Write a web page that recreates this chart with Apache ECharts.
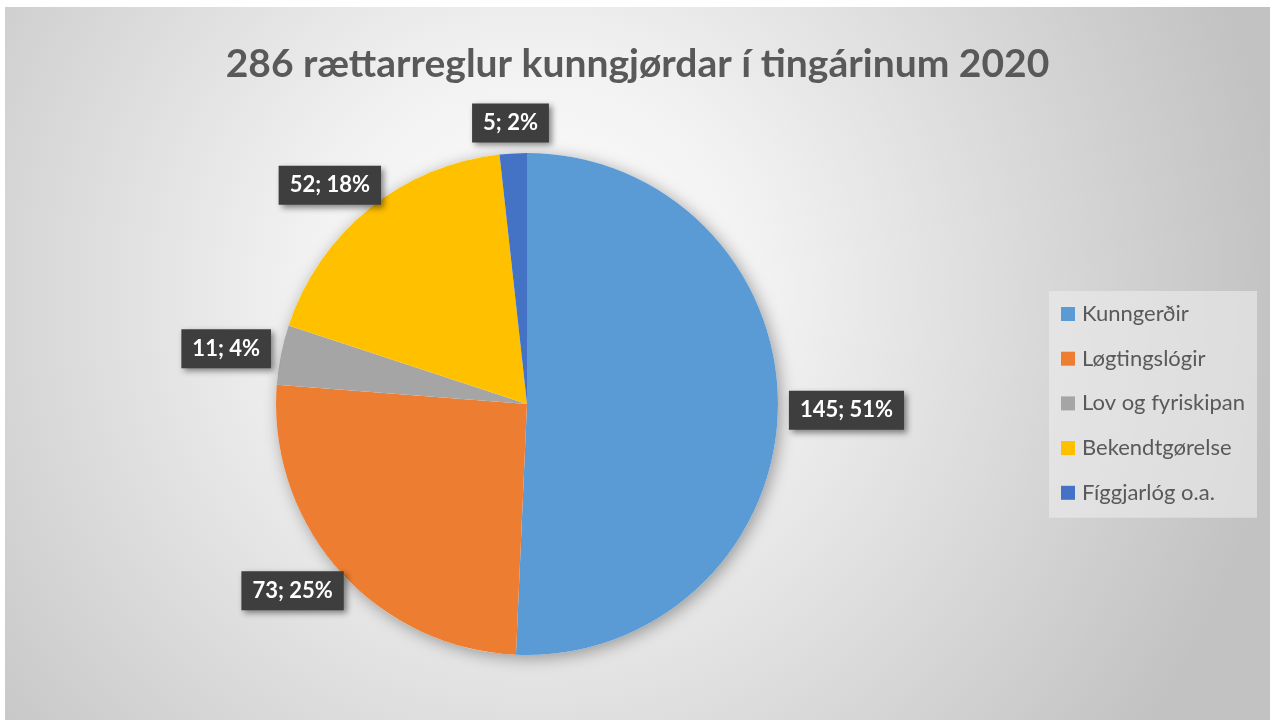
<!DOCTYPE html>
<html>
<head>
<meta charset="utf-8">
<script src="https://cdn.jsdelivr.net/npm/echarts@6/dist/echarts.min.js"></script>
<style>
  html, body { margin: 0; padding: 0; background: #ffffff; }
  #chart {
    position: absolute;
    left: 5px;
    top: 7px;
    width: 1265px;
    height: 713px;
    box-shadow: inset 1px 1px 0 #bdbdbd;
  }
</style>
</head>
<body>
<div id="chart"></div>
<script>
// Pie of published regulations by type, 2020
const titleText = "286 rættarreglur kunngjørdar í tingárinum 2020";
const categories = ["Kunngerðir", "Løgtingslógir", "Lov og fyriskipan", "Bekendtgørelse", "Fíggjarlóg o.a."];
const counts = [145, 73, 11, 52, 5];
const shares = [51, 25, 4, 18, 2];
const colors = ["#5b9bd5", "#ed7d31", "#a5a5a5", "#ffc000", "#4472c4"];

const total = counts.reduce((a, b) => a + b, 0);
const labelGap = 11;

const chart = echarts.init(document.getElementById("chart"), null, { renderer: "canvas" });

chart.setOption({
  animation: false,
  backgroundColor: {
    type: "radial",
    x: 0.42,
    y: 0.4,
    r: 1.05,
    colorStops: [
      { offset: 0, color: "#ffffff" },
      { offset: 0.3, color: "#f2f2f2" },
      { offset: 1, color: "#c2c2c2" }
    ]
  },
  color: colors,
  title: {
    text: titleText,
    left: "center",
    top: 33,
    textStyle: {
      color: "#595959",
      fontFamily: "Lato",
      fontSize: 39,
      fontWeight: "bold"
    }
  },
  legend: {
    orient: "vertical",
    left: 1044,
    top: 284,
    padding: [12, 12, 14, 12],
    backgroundColor: "rgba(236,236,236,0.6)",
    itemWidth: 14,
    itemHeight: 14,
    itemGap: 22.7,
    icon: "rect",
    data: categories,
    textStyle: {
      color: "#595959",
      fontFamily: "Lato",
      fontSize: 22,
      lineHeight: 20,
      padding: [0, 0, 0, 2]
    }
  },
  series: [
    {
      // backdrop disc that carries the pie's drop shadow
      type: "pie",
      silent: true,
      center: [522, 397],
      radius: 251,
      z: 1,
      label: { show: false },
      labelLine: { show: false },
      itemStyle: {
        color: "#ffffff",
        shadowBlur: 16,
        shadowOffsetX: 3,
        shadowOffsetY: 3,
        shadowColor: "rgba(0,0,0,0.35)"
      },
      data: [{ value: total, name: "" }]
    },
    {
      type: "pie",
      center: [522, 397],
      radius: 251,
      startAngle: 90,
      clockwise: true,
      z: 2,
      avoidLabelOverlap: false,
      itemStyle: { borderWidth: 0 },
      label: {
        show: true,
        position: "outside",
        formatter: (p) => counts[p.dataIndex] + "; " + shares[p.dataIndex] + "%",
        color: "#ffffff",
        fontFamily: "Lato",
        fontWeight: "bold",
        fontSize: 22,
        backgroundColor: "#3e3e3e",
        padding: [9, 11, 8, 11],
        shadowBlur: 6,
        shadowOffsetX: 3,
        shadowOffsetY: 3,
        shadowColor: "rgba(0,0,0,0.45)"
      },
      labelLine: {
        show: true,
        length: 10,
        length2: 0,
        lineStyle: { width: 0, opacity: 0 }
      },
      labelLayout: (params) => {
        const pts = params.labelLinePoints;
        if (!pts) return {};
        const dx0 = pts[1][0] - pts[0][0];
        const dy0 = pts[1][1] - pts[0][1];
        const len = Math.sqrt(dx0 * dx0 + dy0 * dy0) || 1;
        const dx = dx0 / len;
        const dy = dy0 / len;
        const w = params.labelRect.width;
        const h = params.labelRect.height;
        return {
          x: pts[0][0] + dx * labelGap + dx * w / 2,
          y: pts[0][1] + dy * labelGap + dy * h / 2,
          align: "center",
          verticalAlign: "middle"
        };
      },
      data: categories.map((name, i) => ({ name: name, value: counts[i] }))
    }
  ]
});
</script>
</body>
</html>
